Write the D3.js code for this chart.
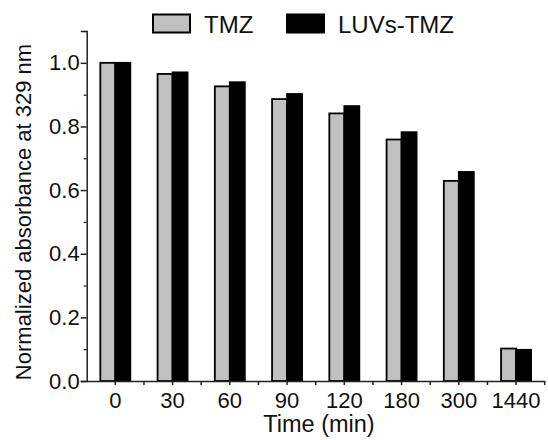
<!DOCTYPE html>
<html>
<head>
<meta charset="utf-8">
<script src="https://cdn.jsdelivr.net/npm/d3@7/dist/d3.min.js"></script>
<style>
  html, body { margin: 0; padding: 0; background: #fff; }
  svg { display: block; font-family: "Liberation Sans", Arial, sans-serif; }
</style>
</head>
<body>
<svg id="chart" width="548" height="440"></svg>
<script>
const categories = ["0", "30", "60", "90", "120", "180", "300", "1440"];
const seriesNames = ["TMZ", "LUVs-TMZ"];
const tmz = [1.0, 0.965, 0.926, 0.886, 0.841, 0.759, 0.629, 0.102];
const luvsTmz = [1.0, 0.970, 0.939, 0.902, 0.864, 0.782, 0.657, 0.098];
const yTicks = [0.0, 0.2, 0.4, 0.6, 0.8, 1.0];
const yMinorTicks = [0.1, 0.3, 0.5, 0.7, 0.9, 1.1];
const colors = ["#c0c0c0", "#000000"];

const svg = d3.select("#chart");
const mLeft = 86.7, mRight = 544.7, mTop = 31, mBottom = 381;

const x0 = d3.scaleBand().domain(categories).range([mLeft, mRight]).padding(0);
const x1 = d3.scaleBand().domain(seriesNames)
  .range([x0.bandwidth() / 2 - 15, x0.bandwidth() / 2 + 15]).padding(0);
const y = d3.scaleLinear().domain([0, 1.1]).range([mBottom, mTop]);

const values = [tmz, luvsTmz];

// bars
seriesNames.forEach((s, si) => {
  svg.append("g").selectAll("rect")
    .data(categories.map((c, i) => ({ c, v: values[si][i] })))
    .join("rect")
    .attr("x", d => x0(d.c) + x1(s))
    .attr("y", d => y(d.v))
    .attr("width", x1.bandwidth())
    .attr("height", d => y(0) - y(d.v))
    .attr("fill", colors[si])
    .attr("stroke", "#000")
    .attr("stroke-width", 1.8);
});

// y axis
const yAxis = d3.axisLeft(y).tickValues(yTicks).tickFormat(d3.format(".1f")).tickSize(6).tickPadding(1);
const gy = svg.append("g").attr("transform", `translate(${mLeft},0)`).call(yAxis);
gy.select(".domain").attr("stroke", "#222").attr("stroke-width", 1.5);
gy.selectAll(".tick line").attr("stroke", "#222").attr("stroke-width", 1.5);
gy.selectAll(".tick text").attr("font-size", 22).attr("fill", "#111")
  .attr("font-family", "'Liberation Sans', Arial, sans-serif");
const gym = svg.append("g").attr("transform", `translate(${mLeft},0)`)
  .call(d3.axisLeft(y).tickValues(yMinorTicks).tickSize(3).tickFormat(""));
gym.select(".domain").remove();
gym.selectAll(".tick line").attr("stroke", "#222").attr("stroke-width", 1.3);

// x axis
const gx = svg.append("g").attr("transform", `translate(0,${mBottom})`)
  .call(d3.axisBottom(x0).tickSize(4).tickPadding(7).tickSizeOuter(0));
gx.select(".domain").attr("stroke", "#222").attr("stroke-width", 1.5);
gx.selectAll(".tick line").attr("stroke", "#222").attr("stroke-width", 1.5);
gx.selectAll(".tick text").attr("font-size", 22).attr("fill", "#111")
  .attr("font-family", "'Liberation Sans', Arial, sans-serif");
// boundary ticks
const gxb = svg.append("g").attr("transform", `translate(0,${mBottom})`);
gxb.selectAll("line").data(categories.slice(1).concat(["__end"]))
  .join("line")
  .attr("x1", d => d === "__end" ? mRight : x0(d))
  .attr("x2", d => d === "__end" ? mRight : x0(d))
  .attr("y1", 0).attr("y2", 4)
  .attr("stroke", "#222").attr("stroke-width", 1.5);

// axis titles
svg.append("text")
  .attr("x", 319).attr("y", 432)
  .attr("text-anchor", "middle").attr("font-size", 23.5).attr("fill", "#111")
  .text("Time (min)");
svg.append("text")
  .attr("transform", `translate(31,212) rotate(-90)`)
  .attr("text-anchor", "middle").attr("font-size", 22).attr("fill", "#111")
  .text("Normalized absorbance at 329 nm");

// legend
const legendX = [153, 287];
seriesNames.forEach((s, si) => {
  const g = svg.append("g").attr("transform", `translate(${legendX[si]},14.5)`);
  g.append("rect").attr("width", 37).attr("height", 18)
    .attr("fill", colors[si]).attr("stroke", "#000").attr("stroke-width", 2);
  g.append("text").attr("x", 51).attr("y", 18)
    .attr("font-size", 24).attr("fill", "#111").text(s);
});
</script>
</body>
</html>
